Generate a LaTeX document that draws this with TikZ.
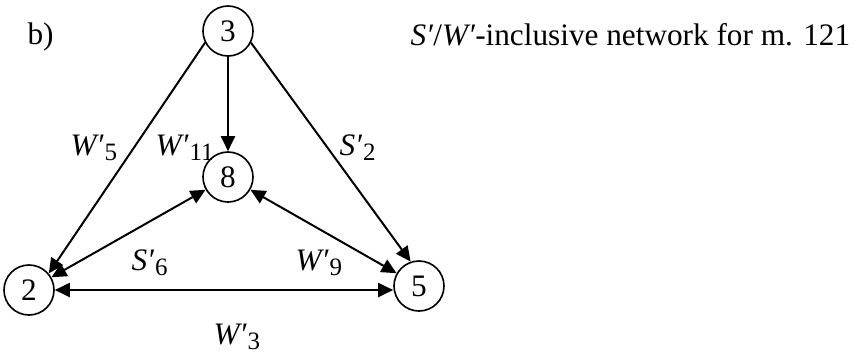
\documentclass[tikz,border=0pt]{standalone}
\usepackage{fontspec}
\setmainfont{Liberation Serif}
\usetikzlibrary{arrows.meta}
\newcommand\elab[2]{\textit{#1′}\kern0.3pt\raisebox{-2pt}{\fontsize{10}{11}\selectfont #2}}
\begin{document}
\begin{tikzpicture}[x=0.4pt,y=-0.4pt,
  every node/.style={font=\fontsize{12.5}{14}\selectfont},
  vtx/.style={draw,circle,line width=0.65pt,minimum size=20pt,inner sep=0pt},
  lab/.style={anchor=base west,inner sep=0pt},
  conn/.style={line width=0.8pt,-{Triangle[length=6pt,width=5.6pt]}},
  both/.style={line width=0.8pt,{Triangle[length=6pt,width=5.6pt]}-{Triangle[length=6pt,width=5.6pt]}}]
\useasboundingbox (0,0) rectangle (860,356);
\node[vtx] (n3) at (228,31) {3};
\node[vtx] (n8) at (228,177) {8};
\node[vtx] (n2) at (29,290) {2};
\node[vtx] (n5) at (419,286) {5};
\node[lab] (b) at (27,44) {b)};
\node[lab] (title) at (410,45) {\textit{S′}/\textit{W′}-inclusive network for m. 121};
\draw[conn] (n3.207) -- (n2.40);
\draw[conn] (n3.-27) -- (n5.109);
\draw[conn] (n3) -- (n8);
\draw[both] (n8) -- (n2);
\draw[both] (n8) -- (n5);
\coordinate (hr) at (n2.east -| n5.west);
\draw[both] (n2.east) -- (hr);
\node[lab] (l5) at (70,155) {\elab{W}{5}};
\node[lab] (l11) at (155,155) {\elab{W}{11}};
\node[lab] (l2) at (339,155) {\elab{S}{2}};
\node[lab] (l6) at (131,270) {\elab{S}{6}};
\node[lab] (l9) at (295,270) {\elab{W}{9}};
\node[lab] (l3) at (213,344) {\elab{W}{3}};
\end{tikzpicture}
\end{document}
